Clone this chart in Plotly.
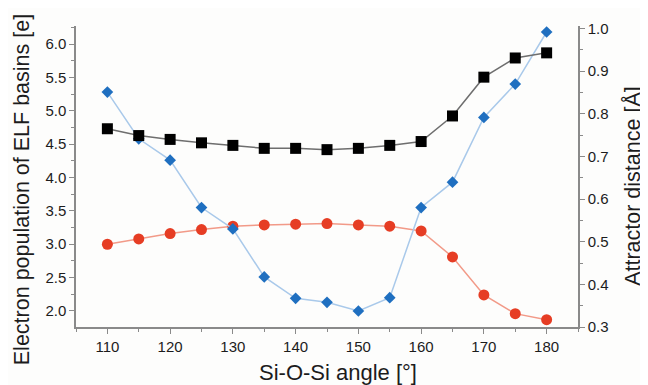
import plotly.graph_objects as go

angles = [110, 115, 120, 125, 130, 135, 140, 145, 150, 155, 160, 165, 170, 175, 180]
blue_population = [5.28, 4.58, 4.26, 3.55, 3.23, 2.51, 2.19, 2.13, 2.00, 2.20, 3.55, 3.93, 4.90, 5.40, 6.18]
red_population = [3.00, 3.08, 3.16, 3.22, 3.27, 3.29, 3.30, 3.31, 3.29, 3.27, 3.20, 2.81, 2.24, 1.96, 1.87]
black_distance = [0.765, 0.749, 0.740, 0.732, 0.726, 0.719, 0.719, 0.716, 0.719, 0.726, 0.735, 0.795, 0.886, 0.931, 0.943]

x_ticks = [110, 120, 130, 140, 150, 160, 170, 180]
left_ticks = [2.0, 2.5, 3.0, 3.5, 4.0, 4.5, 5.0, 5.5, 6.0]
right_ticks = [0.3, 0.4, 0.5, 0.6, 0.7, 0.8, 0.9, 1.0]

x_title = "Si-O-Si angle [°]"
left_title = "Electron population of ELF basins [e]"
right_title = "Attractor distance [Å]"

FONT = "Liberation Sans, Arial"
TXT = "#1c1c1c"

fig = go.Figure()
fig.add_trace(go.Scatter(x=angles, y=black_distance, yaxis="y2", mode="lines+markers",
                         line=dict(color="#6e6e6e", width=1.5),
                         marker=dict(symbol="square", size=11, color="#000000")))
fig.add_trace(go.Scatter(x=angles, y=red_population, mode="lines+markers",
                         line=dict(color="#f29a88", width=1.5),
                         marker=dict(symbol="circle", size=11, color="#e63d24")))
fig.add_trace(go.Scatter(x=angles, y=blue_population, mode="lines+markers",
                         line=dict(color="#a9c9ea", width=1.5),
                         marker=dict(symbol="diamond", size=9, color="#1f6fc0")))

axis_common = dict(showgrid=False, zeroline=False, showline=True, linecolor="#8a8a8a", linewidth=1.5,
                   ticks="outside", ticklen=5, tickcolor="#8a8a8a", tickwidth=1.2,
                   tickfont=dict(family=FONT, size=15, color=TXT))

# the page body adds an 8px margin, so margins are shifted to land on the reference layout
fig.update_layout(
    width=648, height=385,
    margin=dict(l=68, r=78, t=12, b=66),
    paper_bgcolor="#fdfdfc", plot_bgcolor="#fdfdfc",
    showlegend=False,
    xaxis=dict(range=[105, 185], tickvals=x_ticks,
               minor=dict(ticks="outside", ticklen=3, tickcolor="#8a8a8a", dtick=5, tick0=105),
               **axis_common),
    yaxis=dict(range=[1.76, 6.27], tickvals=left_ticks, ticktext=[f"{v:.1f}" for v in left_ticks],
               minor=dict(ticks="outside", ticklen=3, tickcolor="#8a8a8a", dtick=0.25, tick0=1.75),
               **axis_common),
    yaxis2=dict(range=[0.3, 1.006], overlaying="y", side="right", tickvals=right_ticks,
                ticktext=[f"{v:.1f}" for v in right_ticks],
                minor=dict(ticks="outside", ticklen=3, tickcolor="#8a8a8a", dtick=0.05, tick0=0.25),
                **axis_common),
    annotations=[
        dict(text=x_title, xref="paper", yref="paper", x=0.522, y=-0.1498,
             xanchor="center", yanchor="middle", showarrow=False,
             font=dict(family=FONT, size=22, color=TXT)),
        dict(text=left_title, xref="paper", yref="paper", x=-0.1076, y=0.4577,
             xanchor="center", yanchor="middle", showarrow=False, textangle=-90,
             font=dict(family=FONT, size=21.5, color=TXT)),
        dict(text=right_title, xref="paper", yref="paper", x=1.1096, y=0.469,
             xanchor="center", yanchor="middle", showarrow=False, textangle=-90,
             font=dict(family=FONT, size=21.5, color=TXT)),
    ],
)

fig.write_html("out.html")
